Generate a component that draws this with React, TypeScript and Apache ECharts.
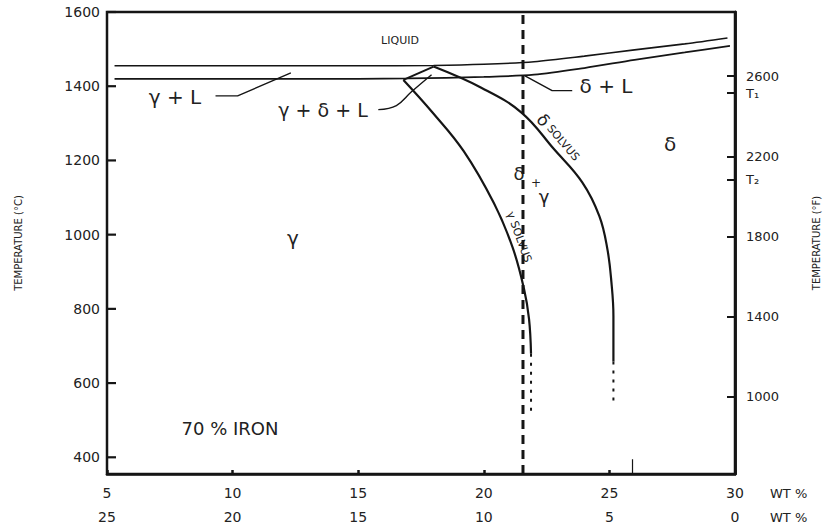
import React, { useEffect, useRef } from "react";
import * as echarts from "echarts";

// ---- axes ----
const CR_MIN = 5;
const CR_MAX = 30;
const NI_MIN = 0;
const NI_MAX = 25;
const TEMP_C_MIN = 355;
const TEMP_C_MAX = 1600;
const TEMP_C_TICKS = [400, 600, 800, 1000, 1200, 1400, 1600];
const TEMP_F_MIN = 615;
const TEMP_F_MAX = 2920;
const TEMP_F_TICKS = [1000, 1400, 1800, 2200, 2600];
const T1_F = 2515;
const T2_F = 2082;

// ---- phase boundaries (wt% Cr, °C) ----
const liquidusUpper = [
  [5.3, 1455], [10, 1455], [15, 1455], [18, 1456], [20, 1459], [22, 1466],
  [24, 1481], [26, 1498], [28, 1514], [29.7, 1530],
];
const liquidusLower = [
  [5.3, 1420], [10, 1420], [15, 1420], [17, 1421], [20, 1425], [22, 1431],
  [24, 1449], [26, 1471], [28, 1491], [29.8, 1509],
];
const threePhaseEdge = [[16.8, 1417], [18.0, 1453]];
const gammaSolvus = [
  [16.8, 1417], [17.95, 1330], [19.2, 1225], [20.4, 1085], [21.15, 965],
  [21.6, 854], [21.8, 773], [21.88, 679],
];
const gammaSolvusDotted = [[21.88, 679], [21.88, 513]];
const deltaSolvus = [
  [18.0, 1453], [19.9, 1396], [21.5, 1329], [22.8, 1230], [23.92, 1141],
  [24.6, 1050], [24.92, 961], [25.08, 872], [25.16, 781], [25.16, 658],
];
const deltaSolvusDotted = [[25.16, 658], [25.16, 540]];
const alloyLine = [[21.56, 355], [21.56, 1600]];
const strayTick = [[25.92, 357], [25.92, 395]];

// ---- label leaders ----
const leaderGammaL = [[9.32, 1374], [10.2, 1374], [12.32, 1436]];
const leaderGammaDeltaL = [[15.8, 1337], [16.52, 1348], [17.12, 1385], [17.92, 1431]];
const leaderDeltaL = [[21.64, 1428], [22.72, 1388], [23.52, 1388]];

const FONT = "DejaVu Sans";
const INK = "#151515";
const LEFT_TICK_PX = 9;

function lineSeries(data: number[][], width: number, extra: any = {}) {
  return {
    type: "line",
    data,
    xAxisIndex: 0,
    yAxisIndex: 0,
    showSymbol: false,
    symbol: "none",
    silent: true,
    lineStyle: { color: INK, width, ...(extra.lineStyle || {}) },
    smooth: extra.smooth ?? false,
    z: extra.z ?? 3,
  };
}

export default function App() {
  const ref = useRef<HTMLDivElement>(null);

  useEffect(() => {
    if (!ref.current) return;
    const chart = echarts.init(ref.current, null, { renderer: "svg" });
    const axisLabelStyle = { color: "#222", fontFamily: FONT, fontSize: 14 };
    const rightTicks = [...TEMP_F_TICKS, T1_F, T2_F].sort((a, b) => a - b);

    const texts: any[] = [
      { type: "text", x: 400, y: 40, style: { text: "LIQUID", font: `11px ${FONT}`, fill: "#222", align: "center", verticalAlign: "middle" } },
      { type: "text", x: 175, y: 97, style: { text: "γ + L", font: `20px ${FONT}`, fill: "#222", align: "center", verticalAlign: "middle" } },
      { type: "text", x: 323, y: 110, style: { text: "γ + δ + L", font: `19px ${FONT}`, fill: "#222", align: "center", verticalAlign: "middle" } },
      { type: "text", x: 606, y: 86, style: { text: "δ + L", font: `20px ${FONT}`, fill: "#222", align: "center", verticalAlign: "middle" } },
      { type: "text", x: 670, y: 144, style: { text: "δ", font: `20px ${FONT}`, fill: "#222", align: "center", verticalAlign: "middle" } },
      { type: "text", x: 293, y: 238, style: { text: "γ", font: `20px ${FONT}`, fill: "#222", align: "center", verticalAlign: "middle" } },
      { type: "text", x: 519, y: 173, style: { text: "δ", font: `18px ${FONT}`, fill: "#222", align: "center", verticalAlign: "middle" } },
      { type: "text", x: 536, y: 183, style: { text: "+", font: `12px ${FONT}`, fill: "#222", align: "center", verticalAlign: "middle" } },
      { type: "text", x: 544, y: 196, style: { text: "γ", font: `18px ${FONT}`, fill: "#222", align: "center", verticalAlign: "middle" } },
      { type: "text", x: 230, y: 428, style: { text: "70 % IRON", font: `18px ${FONT}`, fill: "#222", align: "center", verticalAlign: "middle" } },
      { type: "text", x: 510, y: 212, rotation: -1.22, style: { text: "γ SOLVUS", font: `11px ${FONT}`, fill: "#222", align: "left", verticalAlign: "middle" } },
      {
        type: "text", x: 540, y: 116, rotation: -0.86,
        style: {
          text: "{a|δ} SOLVUS",
          font: `11px ${FONT}`,
          fill: "#222",
          align: "left",
          verticalAlign: "middle",
          rich: { a: { fontSize: 17, fontFamily: FONT, fill: "#222" } },
        },
      },
      { type: "text", x: 770, y: 493, style: { text: "WT %", font: `13px ${FONT}`, fill: "#222", align: "left", verticalAlign: "middle" } },
      { type: "text", x: 770, y: 517, style: { text: "WT %", font: `13px ${FONT}`, fill: "#222", align: "left", verticalAlign: "middle" } },
    ];

    const option: any = {
      animation: false,
      backgroundColor: "#ffffff",
      grid: {
        left: 107,
        right: 88,
        top: 12,
        bottom: 52,
        outerBoundsMode: "none",
        containLabel: false,
        show: true,
        borderColor: INK,
        borderWidth: 2.5,
        backgroundColor: "transparent",
      },
      xAxis: [
        {
          type: "value",
          min: CR_MIN,
          max: CR_MAX,
          interval: 5,
          position: "bottom",
          splitLine: { show: false },
          axisLine: { show: true, lineStyle: { color: INK, width: 2.5 } },
          axisTick: { show: true, inside: true, length: 4, lineStyle: { color: INK, width: 2.5 } },
          axisLabel: { ...axisLabelStyle, margin: 12 },
        },
        {
          type: "value",
          min: NI_MIN,
          max: NI_MAX,
          interval: 5,
          inverse: true,
          position: "bottom",
          offset: 24,
          splitLine: { show: false },
          axisLine: { show: false },
          axisTick: { show: false },
          axisLabel: { ...axisLabelStyle, margin: 12 },
        },
      ],
      yAxis: [
        {
          type: "value",
          min: TEMP_C_MIN,
          max: TEMP_C_MAX,
          position: "left",
          name: "TEMPERATURE (°C)",
          nameLocation: "middle",
          nameGap: 84,
          nameRotate: 90,
          nameTextStyle: { color: "#222", fontFamily: FONT, fontSize: 10 },
          splitLine: { show: false },
          axisLine: { show: true, lineStyle: { color: INK, width: 2.5 } },
          axisTick: { show: false },
          axisLabel: {
            ...axisLabelStyle,
            margin: 7,
            customValues: TEMP_C_TICKS,
            formatter: (v: number) => String(v),
          },
        },
        {
          type: "value",
          min: TEMP_F_MIN,
          max: TEMP_F_MAX,
          position: "right",
          name: "TEMPERATURE (°F)",
          nameLocation: "middle",
          nameGap: 76,
          nameRotate: 90,
          nameTextStyle: { color: "#222", fontFamily: FONT, fontSize: 10 },
          splitLine: { show: false },
          axisLine: { show: true, lineStyle: { color: INK, width: 2.5 } },
          axisTick: {
            show: true,
            inside: true,
            length: 8,
            customValues: rightTicks,
            lineStyle: { color: INK, width: 2 },
          },
          axisLabel: {
            ...axisLabelStyle,
            fontSize: 13,
            margin: 11,
            customValues: rightTicks,
            formatter: (v: number) =>
              Math.abs(v - T1_F) < 1 ? "T₁" : Math.abs(v - T2_F) < 1 ? "T₂" : String(v),
          },
        },
      ],
      series: [
        lineSeries(liquidusUpper, 1.6, { smooth: 0.3 }),
        lineSeries(liquidusLower, 1.8, { smooth: 0.3 }),
        lineSeries(threePhaseEdge, 2),
        lineSeries(gammaSolvus, 2.2, { smooth: 0.4 }),
        lineSeries(gammaSolvusDotted, 2, { lineStyle: { type: [3, 6] } }),
        lineSeries(deltaSolvus, 2.2, { smooth: 0.4 }),
        lineSeries(deltaSolvusDotted, 2, { lineStyle: { type: [3, 6] } }),
        lineSeries(alloyLine, 3, { lineStyle: { type: [9, 6] }, z: 4 }),
        lineSeries(strayTick, 1.2),
        lineSeries(leaderGammaL, 1.4),
        lineSeries(leaderGammaDeltaL, 1.4, { smooth: 0.4 }),
        lineSeries(leaderDeltaL, 1.4),
      ],
      graphic: texts,
    };
    chart.setOption(option);

    // inward ticks of the °C axis, positioned through the axis scale
    const tickLines = TEMP_C_TICKS.map((t) => {
      const p = chart.convertToPixel({ xAxisIndex: 0, yAxisIndex: 0 }, [CR_MIN, t]) as number[];
      return {
        type: "line",
        z: 100,
        silent: true,
        shape: { x1: p[0], y1: p[1], x2: p[0] + LEFT_TICK_PX, y2: p[1] },
        style: { stroke: INK, lineWidth: 2.2 },
      };
    });
    chart.setOption({ graphic: [...texts, ...tickLines] });

    return () => chart.dispose();
  }, []);

  return (
    <div
      ref={ref}
      style={{ position: "fixed", left: 0, top: 0, width: 823, height: 526, background: "#fff" }}
    />
  );
}
